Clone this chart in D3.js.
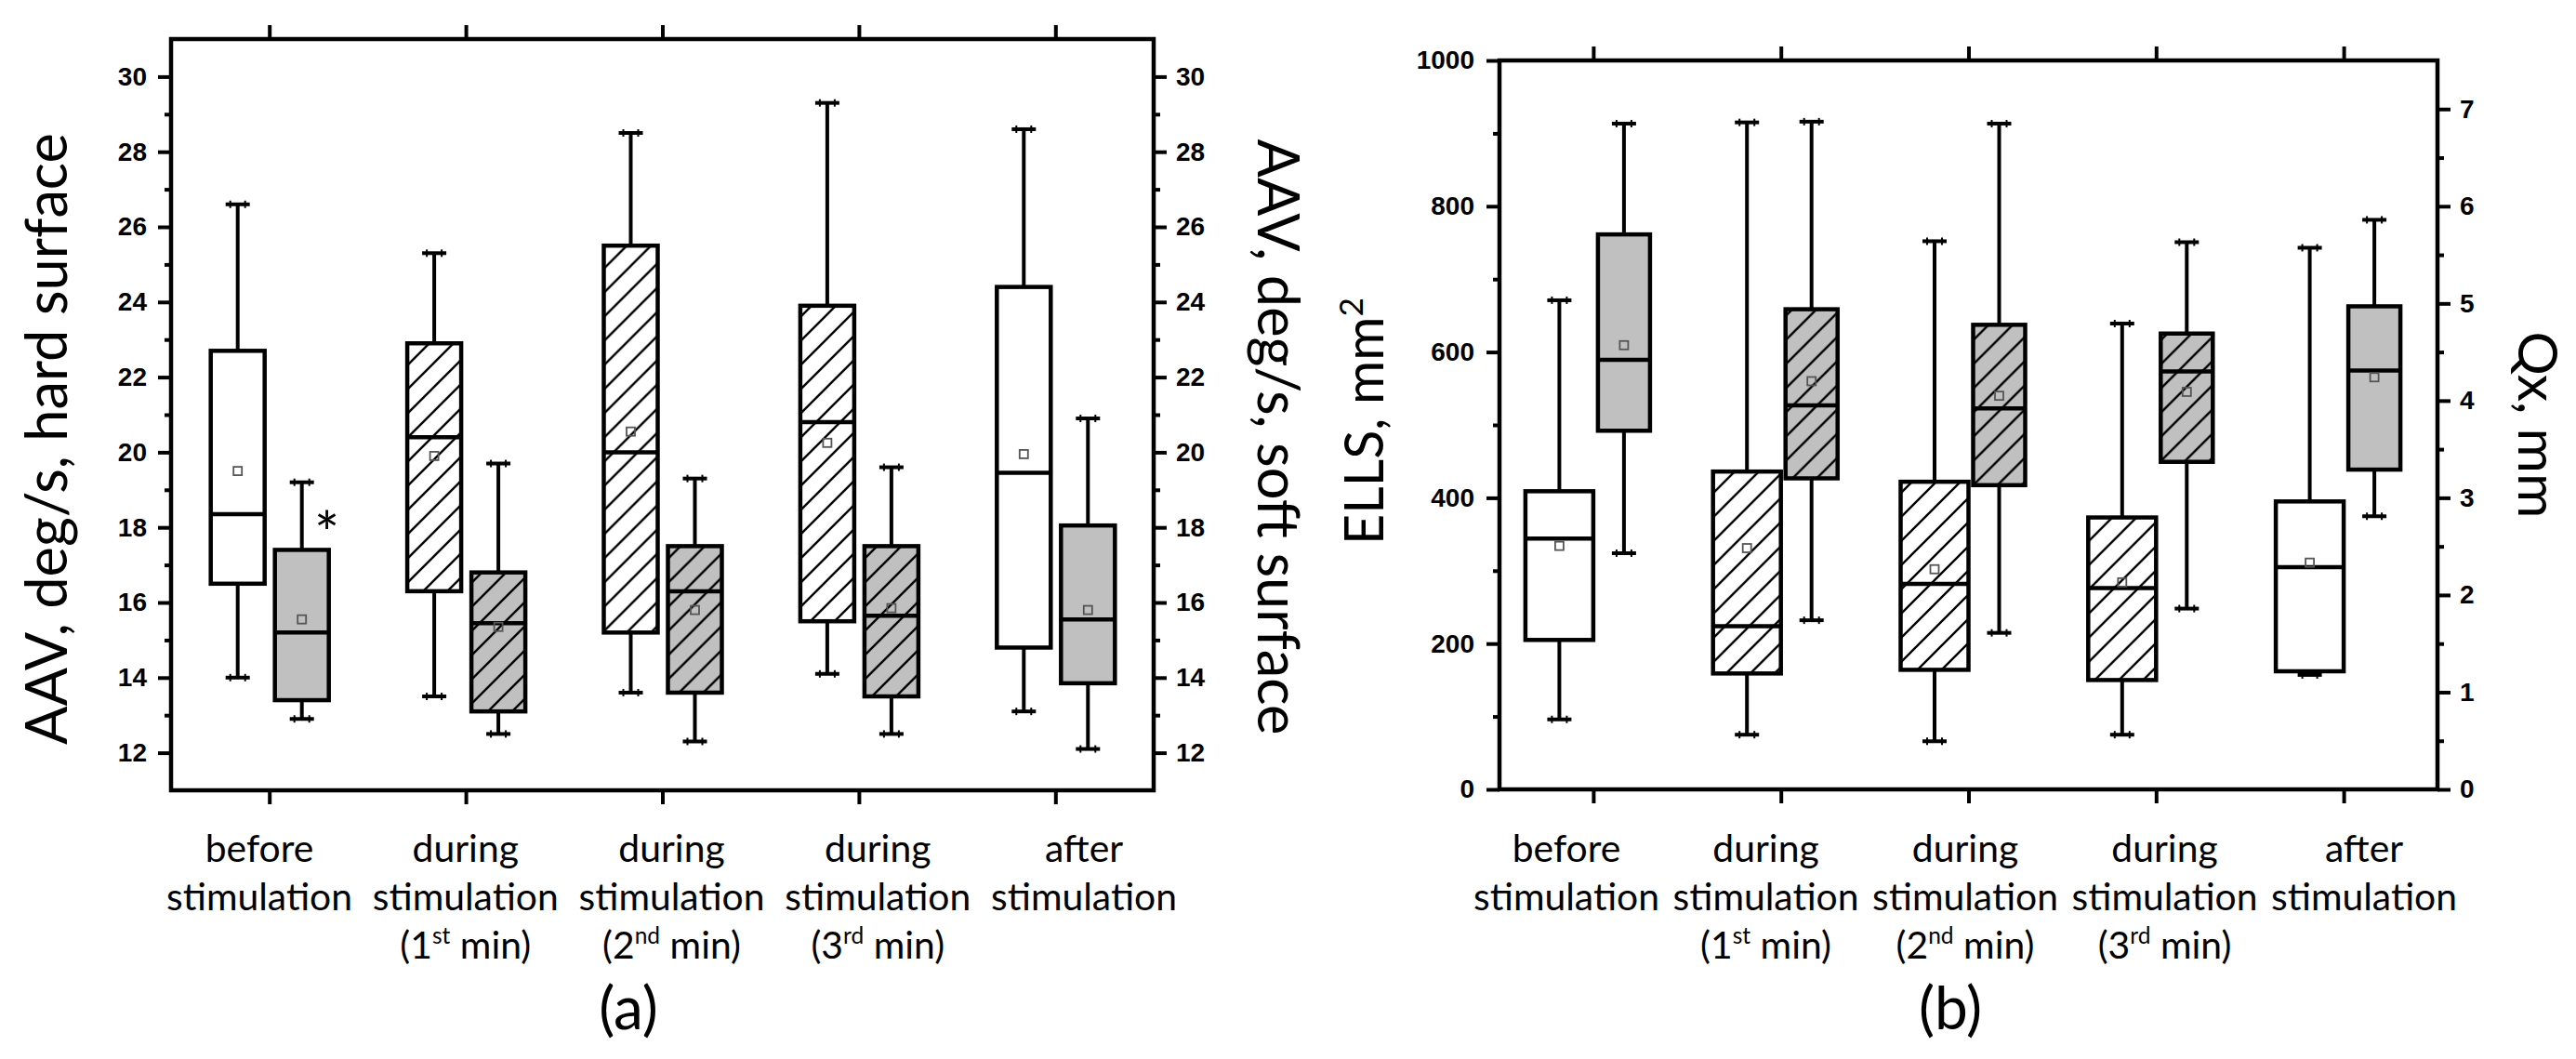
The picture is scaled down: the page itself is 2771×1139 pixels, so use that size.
<!DOCTYPE html>
<html>
<head>
<meta charset="utf-8">
<script src="https://cdn.jsdelivr.net/npm/d3@7"></script>
<style>
  body { margin: 0; background: #fff; }
  svg { display: block; }
  .tick text { font-family: "Liberation Sans", Arial, sans-serif; font-weight: bold; font-size: 28px; fill: #000; }
  .tick line { stroke: #000; stroke-width: 4; }
  .lbl { font-family: Lato, "Open Sans", sans-serif; fill: #000; }
</style>
</head>
<body>
<div id="chart"></div>
<script>
// categories and label lines
const categories = ["before", "during1", "during2", "during3", "after"];
const labelLine1 = ["before", "during", "during", "during", "after"];
const labelLine2 = ["stimulation", "stimulation", "stimulation", "stimulation", "stimulation"];
const minuteNum = ["", "1", "2", "3", ""];
const minuteSuffix = ["", "st", "nd", "rd", ""];
const hatched = [false, true, true, true, false];

// (a) AAV, hard surface
const aavHardMin = [14.0, 13.5, 13.6, 14.1, 13.1];
const aavHardQ1 = [16.5, 16.3, 15.2, 15.5, 14.8];
const aavHardMed = [18.35, 20.4, 20.0, 20.8, 19.45];
const aavHardQ3 = [22.7, 22.9, 25.5, 23.9, 24.4];
const aavHardMax = [26.6, 25.3, 28.5, 29.3, 28.6];
const aavHardMean = [19.5, 19.9, 20.55, 20.25, 19.95];

// (a) AAV, soft surface
const aavSoftMin = [12.9, 12.5, 12.3, 12.5, 12.1];
const aavSoftQ1 = [13.4, 13.1, 13.6, 13.5, 13.85];
const aavSoftMed = [15.2, 15.45, 16.3, 15.65, 15.55];
const aavSoftQ3 = [17.4, 16.8, 17.5, 17.5, 18.05];
const aavSoftMax = [19.2, 19.7, 19.3, 19.6, 20.9];
const aavSoftMean = [15.55, 15.35, 15.8, 15.85, 15.8];

// (b) ELLS, mm^2
const ellsMin = [96, 75, 66, 75, 157];
const ellsQ1 = [205, 159, 164, 150, 162];
const ellsMed = [344, 224, 282, 276, 305];
const ellsQ3 = [409, 436, 422, 373, 395];
const ellsMax = [671, 915, 752, 639, 743];
const ellsMean = [334, 331, 302, 284, 311];

// (b) Qx, mm
const qxMin = [2.43, 1.74, 1.61, 1.86, 2.81];
const qxQ1 = [3.69, 3.2, 3.13, 3.37, 3.29];
const qxMed = [4.42, 3.95, 3.92, 4.3, 4.31];
const qxQ3 = [5.71, 4.94, 4.78, 4.69, 4.97];
const qxMax = [6.85, 6.87, 6.85, 5.63, 5.86];
const qxMean = [4.57, 4.2, 4.05, 4.09, 4.24];

// ticks
const aavTicks = d3.range(12, 31, 2);
const aavMinor = d3.range(13, 30, 2);
const ellsTicks = d3.range(0, 1001, 200);
const ellsMinor = d3.range(100, 1000, 200);
const qxTicks = d3.range(0, 8, 1);
const qxMinor = d3.range(0.5, 7, 1);

const GRAY = "#c0c0c0";

const svg = d3.select("#chart").append("svg")
  .attr("width", 2771)
  .attr("height", 1139);

const defs = svg.append("defs");
[["hatchWhite", "#fff"], ["hatchGray", GRAY]].forEach(([id, bg]) => {
  const p = defs.append("pattern")
    .attr("id", id)
    .attr("patternUnits", "userSpaceOnUse")
    .attr("width", 26)
    .attr("height", 26);
  p.append("rect").attr("width", 26).attr("height", 26).attr("fill", bg);
  p.append("path")
    .attr("d", "M-6.5,6.5L6.5,-6.5M0,26L26,0M19.5,32.5L32.5,19.5")
    .attr("stroke", "#000")
    .attr("stroke-width", 2.4);
});

// scale a text's font so its drawn length matches the target width
function fitText(sel, target) {
  const node = sel.node();
  const len = node.getComputedTextLength();
  const size = parseFloat(sel.attr("font-size"));
  const k = target / len;
  sel.attr("font-size", size * k);
  sel.selectAll("tspan").each(function () {
    const t = d3.select(this);
    if (t.attr("font-size")) t.attr("font-size", parseFloat(t.attr("font-size")) * k);
    if (t.attr("dy")) t.attr("dy", parseFloat(t.attr("dy")) * k);
  });
  return k;
}

const rows = (mn, q1, med, q3, mx, mean) =>
  categories.map((c, i) => ({ c, i, min: mn[i], q1: q1[i], med: med[i], q3: q3[i], max: mx[i], mean: mean[i] }));

function drawBoxes(g, x, y, data, offset, width, plainFill, hatchId) {
  const b = g.selectAll(null).data(data).join("g")
    .attr("transform", (d) => `translate(${x(d.i + 1) + offset},0)`);
  b.append("line")
    .attr("y1", (d) => y(d.max)).attr("y2", (d) => y(d.q3))
    .attr("stroke", "#000").attr("stroke-width", 4);
  b.append("line")
    .attr("y1", (d) => y(d.q1)).attr("y2", (d) => y(d.min))
    .attr("stroke", "#000").attr("stroke-width", 4);
  ["max", "min"].forEach((k) => {
    b.append("line")
      .attr("x1", -13).attr("x2", 13)
      .attr("y1", (d) => y(d[k])).attr("y2", (d) => y(d[k]))
      .attr("stroke", "#000").attr("stroke-width", 4);
    [-8, 8].forEach((dx) => {
      b.append("line")
        .attr("x1", dx).attr("x2", dx)
        .attr("y1", (d) => y(d[k]) - 4).attr("y2", (d) => y(d[k]) + 4)
        .attr("stroke", "#000").attr("stroke-width", 2);
    });
  });
  b.append("rect")
    .attr("x", -width / 2)
    .attr("width", width)
    .attr("y", (d) => y(d.q3))
    .attr("height", (d) => y(d.q1) - y(d.q3))
    .attr("fill", (d) => (hatched[d.i] ? `url(#${hatchId})` : plainFill))
    .attr("stroke", "#000")
    .attr("stroke-width", 4.5);
  b.append("line")
    .attr("x1", -width / 2).attr("x2", width / 2)
    .attr("y1", (d) => y(d.med)).attr("y2", (d) => y(d.med))
    .attr("stroke", "#000").attr("stroke-width", 4.5);
  b.append("rect")
    .attr("x", -4.5).attr("width", 9)
    .attr("y", (d) => y(d.mean) - 4.5).attr("height", 9)
    .attr("fill", "none")
    .attr("stroke", "#555")
    .attr("stroke-width", 1.8);
}

function frame(g, x, y) {
  const [x0, x1] = x.range();
  const [y0, y1] = y.range();
  g.append("rect")
    .attr("x", x0).attr("y", y1)
    .attr("width", x1 - x0).attr("height", y0 - y1)
    .attr("fill", "none").attr("stroke", "#000").attr("stroke-width", 4.5);
  g.append("g").attr("transform", `translate(0,${y1})`)
    .call(d3.axisTop(x).tickValues([1, 2, 3, 4, 5]).tickSize(15).tickSizeOuter(0).tickFormat(""))
    .call((a) => a.select(".domain").remove());
  g.append("g").attr("transform", `translate(0,${y0})`)
    .call(d3.axisBottom(x).tickValues([1, 2, 3, 4, 5]).tickSize(15).tickSizeOuter(0).tickFormat(""))
    .call((a) => a.select(".domain").remove());
}

function yAxis(g, pos, y, major, minor, side, pad) {
  const ax = side === "left" ? d3.axisLeft : d3.axisRight;
  g.append("g").attr("transform", `translate(${pos},0)`)
    .call(ax(y).tickValues(major).tickSize(14).tickSizeOuter(0).tickPadding(pad).tickFormat(d3.format("d")))
    .call((a) => a.select(".domain").remove());
  g.append("g").attr("transform", `translate(${pos},0)`)
    .call(ax(y).tickValues(minor).tickSize(7).tickSizeOuter(0).tickFormat(""))
    .call((a) => a.select(".domain").remove());
}

function catLabels(g, lx, tag, tagX) {
  // size the label font from the width of "stimulation" in the picture (about 200 px)
  const probe = g.append("text").attr("class", "lbl").attr("font-size", 42).text(labelLine2[0]);
  const fs = 42 * fitText(probe, 200);
  probe.remove();

  const t = g.selectAll(null).data(categories).join("g")
    .attr("transform", (d) => `translate(${lx(d)},0)`);
  t.append("text").attr("class", "lbl").attr("y", 927).attr("text-anchor", "middle")
    .attr("font-size", fs).text((d, i) => labelLine1[i]);
  t.append("text").attr("class", "lbl").attr("y", 979).attr("text-anchor", "middle")
    .attr("font-size", fs).text((d, i) => labelLine2[i]);
  const m = t.filter((d, i) => minuteNum[i] !== "")
    .append("text").attr("class", "lbl").attr("y", 1031).attr("text-anchor", "middle")
    .attr("font-size", fs);
  m.append("tspan").text((d) => "(" + minuteNum[categories.indexOf(d)]);
  m.append("tspan").attr("font-size", fs * 0.6).attr("dy", -fs * 0.38)
    .text((d) => minuteSuffix[categories.indexOf(d)]);
  m.append("tspan").attr("dy", fs * 0.38).text(" min)");
  g.append("text").attr("class", "lbl").attr("x", tagX).attr("y", 1107)
    .attr("text-anchor", "middle").attr("font-size", 64).text(tag);
}

// ---------- panel (a) ----------
const xA = d3.scaleLinear().domain([0.5, 5.5]).range([184, 1241]);
const yA = d3.scaleLinear().domain([11, 31]).range([850, 42]);
const gA = svg.append("g");

drawBoxes(gA, xA, yA, rows(aavHardMin, aavHardQ1, aavHardMed, aavHardQ3, aavHardMax, aavHardMean), -34, 58, "#fff", "hatchWhite");
drawBoxes(gA, xA, yA, rows(aavSoftMin, aavSoftQ1, aavSoftMed, aavSoftQ3, aavSoftMax, aavSoftMean), 35, 58, GRAY, "hatchGray");
frame(gA, xA, yA);
yAxis(gA, 184, yA, aavTicks, aavMinor, "left", 12);
yAxis(gA, 1241, yA, aavTicks, aavMinor, "right", 10);

gA.append("text").attr("class", "lbl")
  .attr("x", xA(1) + 62).attr("y", yA(18.15) + 36)
  .attr("text-anchor", "middle").attr("font-size", 64).text("*");

fitText(gA.append("text").attr("class", "lbl")
  .attr("transform", "translate(72,472) rotate(-90)")
  .attr("text-anchor", "middle").attr("font-size", 63)
  .text("AAV, deg/s, hard surface"), 658);
fitText(gA.append("text").attr("class", "lbl")
  .attr("transform", "translate(1353,470) rotate(90)")
  .attr("text-anchor", "middle").attr("font-size", 63)
  .text("AAV, deg/s, soft surface"), 641);

catLabels(gA, d3.scalePoint().domain(categories).range([279, 1166]), "(a)", 676);

// ---------- panel (b) ----------
const xB = d3.scaleLinear().domain([0.5, 5.5]).range([1613, 2622]);
const yB = d3.scaleLinear().domain([0, 1000]).range([849, 65]);
const yQ = d3.scaleLinear().domain([0, 7.5]).range([849, 65]);
const gB = svg.append("g");

drawBoxes(gB, xB, yB, rows(ellsMin, ellsQ1, ellsMed, ellsQ3, ellsMax, ellsMean), -36.5, 73, "#fff", "hatchWhite");
drawBoxes(gB, xB, yQ, rows(qxMin, qxQ1, qxMed, qxQ3, qxMax, qxMean), 33, 56, GRAY, "hatchGray");
frame(gB, xB, yB);
yAxis(gB, 1613, yB, ellsTicks, ellsMinor, "left", 13);
yAxis(gB, 2622, yQ, qxTicks, qxMinor, "right", 10);

const ellsTitle = gB.append("text").attr("class", "lbl")
  .attr("transform", "translate(1488,453) rotate(-90)")
  .attr("text-anchor", "middle").attr("font-size", 62);
ellsTitle.append("tspan").text("ELLS, mm");
ellsTitle.append("tspan").attr("font-size", 38).attr("dy", -24).text("2");
fitText(ellsTitle, 266);

fitText(gB.append("text").attr("class", "lbl")
  .attr("transform", "translate(2709,457) rotate(90)")
  .attr("text-anchor", "middle").attr("font-size", 62)
  .text("Qx, mm"), 201);

catLabels(gB, d3.scalePoint().domain(categories).range([1685, 2543]), "(b)", 2098);
</script>
</body>
</html>
